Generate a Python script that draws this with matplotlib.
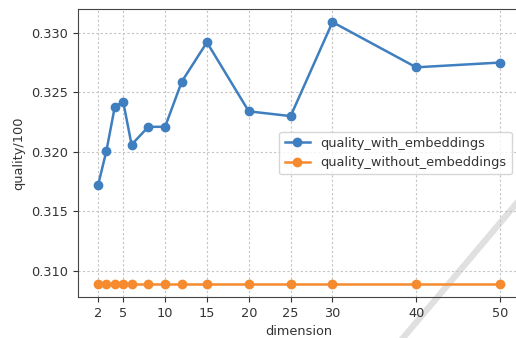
import matplotlib
matplotlib.use("Agg")
import matplotlib.pyplot as plt
from matplotlib.lines import Line2D

dimension = [2, 3, 4, 5, 6, 8, 10, 12, 15, 20, 25, 30, 40, 50]
quality_with_embeddings = [0.3172, 0.3201, 0.3238, 0.3242, 0.3206, 0.3221, 0.3221,
                           0.3259, 0.3292, 0.3234, 0.3230, 0.3309, 0.3271, 0.3275]
quality_without_embeddings = [0.3089] * len(dimension)
x_ticks = [2, 5, 10, 15, 20, 25, 30, 40, 50]

plt.rcParams['font.size'] = 9.3
plt.rcParams['text.color'] = '#333333'
plt.rcParams['xtick.color'] = '#333333'
plt.rcParams['ytick.color'] = '#333333'
plt.rcParams['axes.labelcolor'] = '#333333'

fig = plt.figure(figsize=(5.16, 3.38), dpi=100)
ax = fig.add_axes([78 / 516, 41 / 338, 442 / 516, 288 / 338])
ax.patch.set_alpha(0)
for s in ax.spines.values():
    s.set_color('#444444')

ax.plot(dimension, quality_with_embeddings, marker='o', color='#3f7fbf',
        linewidth=1.8, label='quality_with_embeddings')
ax.plot(dimension, quality_without_embeddings, marker='o', color='#f58b2e',
        linewidth=1.8, label='quality_without_embeddings')

ax.set_xticks(x_ticks)
ax.grid(True, linestyle=(0, (2, 2)), color='#c4c4c4', linewidth=0.8)
ax.set_xlabel('dimension')
ax.set_ylabel('quality/100')
ax.legend(loc='center right', bbox_to_anchor=(512 / 516, 1 - 153 / 338),
          bbox_transform=fig.transFigure, borderaxespad=0)

# light diagonal stripe from the screenshot
fig.add_artist(Line2D([403 / 516, 516 / 516], [0, 1 - 204 / 338],
                      transform=fig.transFigure, color='#e0e0e0', linewidth=4.5, zorder=-1))

fig.savefig('out.png', dpi=100)
